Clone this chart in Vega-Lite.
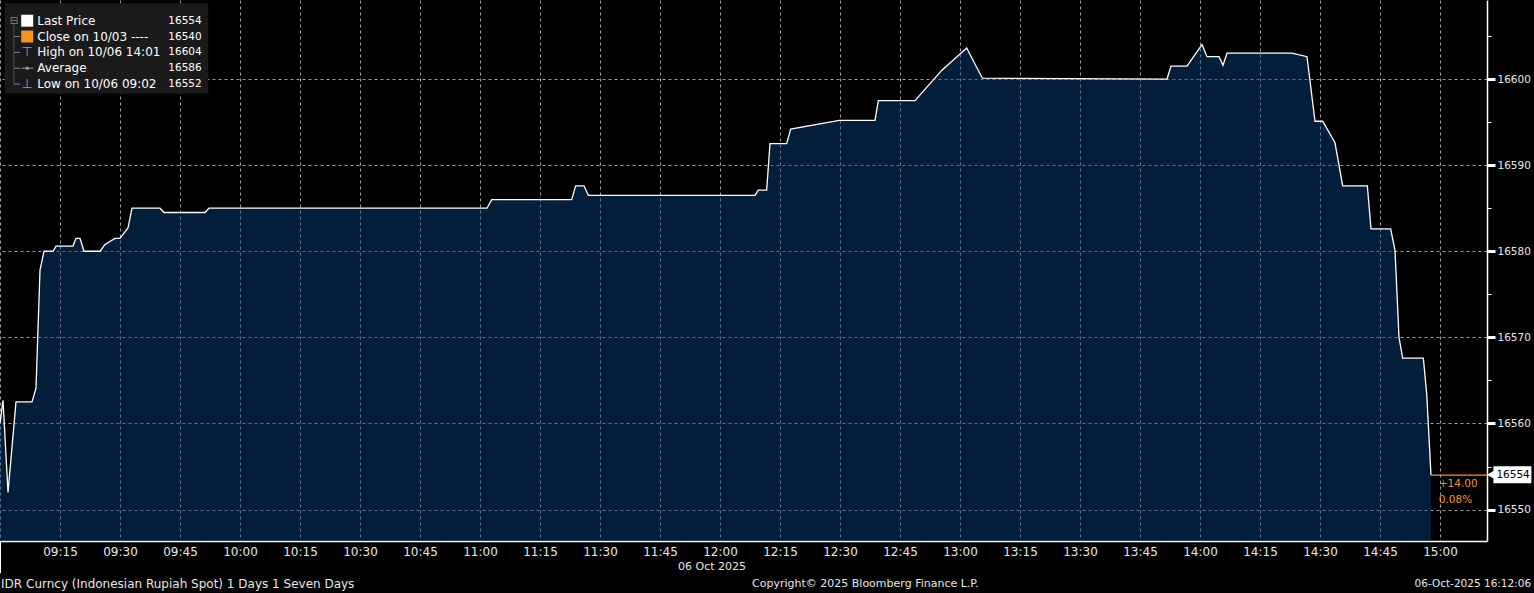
{
  "$schema": "https://vega.github.io/schema/vega-lite/v6.json",
  "width": 1487,
  "height": 541,
  "autosize": {"type": "none"},
  "padding": {"left": 0, "top": 0, "right": 47, "bottom": 52},
  "background": "#000000",
  "config": {"view": {"stroke": null}, "font": "DejaVu Sans"},
  "datasets": {
    "price": [
      {"t": "2025-10-06T09:00:00Z", "v": 16560},
      {"t": "2025-10-06T09:00:45Z", "v": 16562.7},
      {"t": "2025-10-06T09:02:00Z", "v": 16552},
      {"t": "2025-10-06T09:04:00Z", "v": 16562.5},
      {"t": "2025-10-06T09:08:00Z", "v": 16562.5},
      {"t": "2025-10-06T09:09:00Z", "v": 16564.1},
      {"t": "2025-10-06T09:10:00Z", "v": 16577.8},
      {"t": "2025-10-06T09:11:00Z", "v": 16580},
      {"t": "2025-10-06T09:13:15Z", "v": 16580},
      {"t": "2025-10-06T09:14:00Z", "v": 16580.6},
      {"t": "2025-10-06T09:18:15Z", "v": 16580.6},
      {"t": "2025-10-06T09:19:00Z", "v": 16581.5},
      {"t": "2025-10-06T09:20:00Z", "v": 16581.5},
      {"t": "2025-10-06T09:21:00Z", "v": 16580},
      {"t": "2025-10-06T09:25:00Z", "v": 16580},
      {"t": "2025-10-06T09:26:15Z", "v": 16580.8},
      {"t": "2025-10-06T09:28:45Z", "v": 16581.5},
      {"t": "2025-10-06T09:30:00Z", "v": 16581.5},
      {"t": "2025-10-06T09:32:00Z", "v": 16582.7},
      {"t": "2025-10-06T09:33:00Z", "v": 16585},
      {"t": "2025-10-06T09:40:00Z", "v": 16585},
      {"t": "2025-10-06T09:41:00Z", "v": 16584.5},
      {"t": "2025-10-06T09:51:15Z", "v": 16584.5},
      {"t": "2025-10-06T09:52:15Z", "v": 16585},
      {"t": "2025-10-06T11:01:45Z", "v": 16585},
      {"t": "2025-10-06T11:02:55Z", "v": 16586},
      {"t": "2025-10-06T11:22:55Z", "v": 16586},
      {"t": "2025-10-06T11:23:55Z", "v": 16587.6},
      {"t": "2025-10-06T11:26:00Z", "v": 16587.6},
      {"t": "2025-10-06T11:27:05Z", "v": 16586.5},
      {"t": "2025-10-06T12:08:45Z", "v": 16586.5},
      {"t": "2025-10-06T12:09:35Z", "v": 16587.1},
      {"t": "2025-10-06T12:11:40Z", "v": 16587.1},
      {"t": "2025-10-06T12:12:30Z", "v": 16592.5},
      {"t": "2025-10-06T12:16:40Z", "v": 16592.5},
      {"t": "2025-10-06T12:17:40Z", "v": 16594.2},
      {"t": "2025-10-06T12:29:50Z", "v": 16595.2},
      {"t": "2025-10-06T12:38:45Z", "v": 16595.2},
      {"t": "2025-10-06T12:39:35Z", "v": 16597.5},
      {"t": "2025-10-06T12:48:45Z", "v": 16597.5},
      {"t": "2025-10-06T12:55:25Z", "v": 16601},
      {"t": "2025-10-06T13:01:40Z", "v": 16603.6},
      {"t": "2025-10-06T13:05:35Z", "v": 16600.1},
      {"t": "2025-10-06T13:51:45Z", "v": 16600},
      {"t": "2025-10-06T13:52:45Z", "v": 16601.5},
      {"t": "2025-10-06T13:56:45Z", "v": 16601.5},
      {"t": "2025-10-06T14:00:30Z", "v": 16604},
      {"t": "2025-10-06T14:01:45Z", "v": 16602.6},
      {"t": "2025-10-06T14:04:45Z", "v": 16602.6},
      {"t": "2025-10-06T14:05:45Z", "v": 16601.6},
      {"t": "2025-10-06T14:06:45Z", "v": 16603},
      {"t": "2025-10-06T14:23:00Z", "v": 16603},
      {"t": "2025-10-06T14:26:45Z", "v": 16602.6},
      {"t": "2025-10-06T14:28:45Z", "v": 16595.1},
      {"t": "2025-10-06T14:30:40Z", "v": 16595.1},
      {"t": "2025-10-06T14:33:45Z", "v": 16592.6},
      {"t": "2025-10-06T14:35:40Z", "v": 16587.6},
      {"t": "2025-10-06T14:41:50Z", "v": 16587.6},
      {"t": "2025-10-06T14:42:45Z", "v": 16582.6},
      {"t": "2025-10-06T14:47:40Z", "v": 16582.6},
      {"t": "2025-10-06T14:48:45Z", "v": 16580.1},
      {"t": "2025-10-06T14:49:45Z", "v": 16570},
      {"t": "2025-10-06T14:50:40Z", "v": 16567.6},
      {"t": "2025-10-06T14:55:50Z", "v": 16567.6},
      {"t": "2025-10-06T14:56:40Z", "v": 16563.5},
      {"t": "2025-10-06T14:57:45Z", "v": 16554}
    ],
    "legend": [
      {"r": 1, "label": "Last Price", "val": "16554"},
      {"r": 2, "label": "Close on 10/03 ----", "val": "16540"},
      {"r": 3, "label": "High on 10/06 14:01", "val": "16604"},
      {"r": 4, "label": "Average", "val": "16586"},
      {"r": 5, "label": "Low on 10/06 09:02", "val": "16552"}
    ]
  },
  "layer": [
    {
      "data": {"name": "price"},
      "layer": [
        {
          "mark": {"type": "area", "color": "#074484", "opacity": 0.44, "interpolate": "linear"},
          "encoding": {
            "x": {
              "field": "t", "type": "temporal",
              "scale": {"type": "utc", "domain": [
                {"year": 2025, "month": 10, "date": 6, "hours": 9, "minutes": 0, "utc": true},
                {"year": 2025, "month": 10, "date": 6, "hours": 15, "minutes": 11, "seconds": 45, "utc": true}
              ]},
              "axis": {
                "orient": "bottom", "title": null, "format": "%H:%M",
                "values": [
                  {"year": 2025, "month": 10, "date": 6, "hours": 9, "minutes": 0, "utc": true},
                  {"year": 2025, "month": 10, "date": 6, "hours": 9, "minutes": 15, "utc": true},
                  {"year": 2025, "month": 10, "date": 6, "hours": 9, "minutes": 30, "utc": true},
                  {"year": 2025, "month": 10, "date": 6, "hours": 9, "minutes": 45, "utc": true},
                  {"year": 2025, "month": 10, "date": 6, "hours": 10, "minutes": 0, "utc": true},
                  {"year": 2025, "month": 10, "date": 6, "hours": 10, "minutes": 15, "utc": true},
                  {"year": 2025, "month": 10, "date": 6, "hours": 10, "minutes": 30, "utc": true},
                  {"year": 2025, "month": 10, "date": 6, "hours": 10, "minutes": 45, "utc": true},
                  {"year": 2025, "month": 10, "date": 6, "hours": 11, "minutes": 0, "utc": true},
                  {"year": 2025, "month": 10, "date": 6, "hours": 11, "minutes": 15, "utc": true},
                  {"year": 2025, "month": 10, "date": 6, "hours": 11, "minutes": 30, "utc": true},
                  {"year": 2025, "month": 10, "date": 6, "hours": 11, "minutes": 45, "utc": true},
                  {"year": 2025, "month": 10, "date": 6, "hours": 12, "minutes": 0, "utc": true},
                  {"year": 2025, "month": 10, "date": 6, "hours": 12, "minutes": 15, "utc": true},
                  {"year": 2025, "month": 10, "date": 6, "hours": 12, "minutes": 30, "utc": true},
                  {"year": 2025, "month": 10, "date": 6, "hours": 12, "minutes": 45, "utc": true},
                  {"year": 2025, "month": 10, "date": 6, "hours": 13, "minutes": 0, "utc": true},
                  {"year": 2025, "month": 10, "date": 6, "hours": 13, "minutes": 15, "utc": true},
                  {"year": 2025, "month": 10, "date": 6, "hours": 13, "minutes": 30, "utc": true},
                  {"year": 2025, "month": 10, "date": 6, "hours": 13, "minutes": 45, "utc": true},
                  {"year": 2025, "month": 10, "date": 6, "hours": 14, "minutes": 0, "utc": true},
                  {"year": 2025, "month": 10, "date": 6, "hours": 14, "minutes": 15, "utc": true},
                  {"year": 2025, "month": 10, "date": 6, "hours": 14, "minutes": 30, "utc": true},
                  {"year": 2025, "month": 10, "date": 6, "hours": 14, "minutes": 45, "utc": true},
                  {"year": 2025, "month": 10, "date": 6, "hours": 15, "minutes": 0, "utc": true}
                ],
                "labelExpr": "datum.label == '09:00' ? '' : datum.label",
                "ticks": false, "labelFlush": false, "labelOverlap": false,
                "domainColor": "#ffffff", "domainWidth": 1.5,
                "grid": true, "gridColor": "#a0a0a0", "gridDash": [3, 3], "gridWidth": 1,
                "labelColor": "#e8e8e8", "labelFont": "DejaVu Sans", "labelFontSize": 12, "labelPadding": 5
              }
            },
            "y": {
              "field": "v", "type": "quantitative",
              "scale": {"domain": [16546.35, 16609.18], "zero": false, "nice": false},
              "axis": {
                "orient": "right", "title": null, "format": "d",
                "values": [16550, 16555, 16560, 16565, 16570, 16575, 16580, 16585, 16590, 16595, 16600, 16605],
                "labelExpr": "datum.value % 10 == 0 ? datum.label : ''",
                "domainColor": "#ffffff", "domainWidth": 1.5,
                "tickColor": "#ffffff",
                "tickSize": {"condition": {"test": "datum.value % 10 == 0", "value": 8}, "value": 4},
                "tickWidth": {"condition": {"test": "datum.value % 10 == 0", "value": 3}, "value": 1},
                "grid": true, "gridColor": "#a0a0a0", "gridDash": [3, 3], "gridWidth": 1,
                "gridOpacity": {"condition": {"test": "datum.value % 10 == 0", "value": 1}, "value": 0},
                "labelColor": "#e8e8e8", "labelFont": "DejaVu Sans", "labelFontSize": 10.5, "labelPadding": 2
              }
            },
            "y2": {"datum": 16546.35}
          }
        },
        {
          "mark": {"type": "line", "color": "#ffffff", "strokeWidth": 1.3, "interpolate": "linear"},
          "encoding": {
            "x": {"field": "t", "type": "temporal"},
            "y": {"field": "v", "type": "quantitative"}
          }
        },
        {
          "data": {"values": [{}]},
          "mark": {"type": "rule", "color": "#f7941d", "strokeWidth": 1.2},
          "encoding": {
            "x": {"datum": {"year": 2025, "month": 10, "date": 6, "hours": 14, "minutes": 57, "seconds": 45, "utc": true}, "type": "temporal"},
            "x2": {"datum": {"year": 2025, "month": 10, "date": 6, "hours": 15, "minutes": 11, "seconds": 45, "utc": true}},
            "y": {"datum": 16554, "type": "quantitative"}
          }
        },
        {
          "data": {"values": [{}]},
          "mark": {"type": "text", "align": "left", "baseline": "middle", "font": "DejaVu Sans", "fontSize": 10.5, "color": "#f7941d"},
          "encoding": {
            "x": {"datum": {"year": 2025, "month": 10, "date": 6, "hours": 14, "minutes": 59, "seconds": 42, "utc": true}, "type": "temporal"},
            "y": {"datum": 16553.0, "type": "quantitative"},
            "text": {"value": "+14.00"}
          }
        },
        {
          "data": {"values": [{}]},
          "mark": {"type": "text", "align": "left", "baseline": "middle", "font": "DejaVu Sans", "fontSize": 10.5, "color": "#f7941d"},
          "encoding": {
            "x": {"datum": {"year": 2025, "month": 10, "date": 6, "hours": 14, "minutes": 59, "seconds": 42, "utc": true}, "type": "temporal"},
            "y": {"datum": 16551.16, "type": "quantitative"},
            "text": {"value": "0.08%"}
          }
        },
        {
          "data": {"values": [{}]},
          "mark": {"type": "rect", "color": "#ffffff"},
          "encoding": {
            "x": {"datum": {"year": 2025, "month": 10, "date": 6, "hours": 15, "minutes": 13, "seconds": 21, "utc": true}, "type": "temporal"},
            "x2": {"datum": {"year": 2025, "month": 10, "date": 6, "hours": 15, "minutes": 22, "seconds": 51, "utc": true}},
            "y": {"datum": 16555.03, "type": "quantitative"},
            "y2": {"datum": 16553.05}
          }
        },
        {
          "data": {"values": [{}]},
          "mark": {"type": "point", "shape": "triangle-left", "filled": true, "size": 70, "color": "#ffffff", "opacity": 1},
          "encoding": {
            "x": {"datum": {"year": 2025, "month": 10, "date": 6, "hours": 15, "minutes": 12, "seconds": 40, "utc": true}, "type": "temporal"},
            "y": {"datum": 16554.04, "type": "quantitative"}
          }
        },
        {
          "data": {"values": [{}]},
          "mark": {"type": "text", "align": "left", "baseline": "middle", "font": "DejaVu Sans", "fontSize": 10.5, "color": "#000000"},
          "encoding": {
            "x": {"datum": {"year": 2025, "month": 10, "date": 6, "hours": 15, "minutes": 14, "seconds": 6, "utc": true}, "type": "temporal"},
            "y": {"datum": 16554.0, "type": "quantitative"},
            "text": {"value": "16554"}
          }
        },
        {
          "data": {"values": [{}]},
          "mark": {"type": "text", "align": "center", "baseline": "middle", "font": "DejaVu Sans", "fontSize": 11, "color": "#e8e8e8"},
          "encoding": {
            "x": {"datum": {"year": 2025, "month": 10, "date": 6, "hours": 11, "minutes": 58, "seconds": 0, "utc": true}, "type": "temporal"},
            "y": {"datum": 16543.33, "type": "quantitative"},
            "text": {"value": "06 Oct 2025"}
          }
        },
        {
          "data": {"values": [{}]},
          "mark": {"type": "text", "align": "left", "baseline": "middle", "font": "DejaVu Sans", "fontSize": 12, "color": "#e8e8e8"},
          "encoding": {
            "x": {"datum": {"year": 2025, "month": 10, "date": 6, "hours": 9, "minutes": 0, "seconds": 16, "utc": true}, "type": "temporal"},
            "y": {"datum": 16541.39, "type": "quantitative"},
            "text": {"value": "IDR Curncy (Indonesian Rupiah Spot) 1 Days 1 Seven Days"}
          }
        },
        {
          "data": {"values": [{}]},
          "mark": {"type": "text", "align": "center", "baseline": "middle", "font": "DejaVu Sans", "fontSize": 11, "color": "#e8e8e8"},
          "encoding": {
            "x": {"datum": {"year": 2025, "month": 10, "date": 6, "hours": 12, "minutes": 36, "seconds": 21, "utc": true}, "type": "temporal"},
            "y": {"datum": 16541.39, "type": "quantitative"},
            "text": {"value": "Copyright© 2025 Bloomberg Finance L.P."}
          }
        },
        {
          "data": {"values": [{}]},
          "mark": {"type": "text", "align": "right", "baseline": "middle", "font": "DejaVu Sans", "fontSize": 10.5, "color": "#e8e8e8"},
          "encoding": {
            "x": {"datum": {"year": 2025, "month": 10, "date": 6, "hours": 15, "minutes": 22, "seconds": 47, "utc": true}, "type": "temporal"},
            "y": {"datum": 16541.39, "type": "quantitative"},
            "text": {"value": "06-Oct-2025 16:12:06"}
          }
        },
        {
          "data": {"values": [{}]},
          "mark": {"type": "rule", "color": "#ffffff", "strokeWidth": 2},
          "encoding": {
            "x": {"datum": {"year": 2025, "month": 10, "date": 6, "hours": 9, "minutes": 0, "seconds": 0, "utc": true}, "type": "temporal"},
            "y": {"datum": 16546.35, "type": "quantitative"},
            "y2": {"datum": 16542.6}
          }
        }
      ]
    },
    {
      "data": {"name": "legend"},
      "layer": [
        {
          "data": {"values": [{}]},
          "mark": {"type": "rect", "color": "#1a1a1a"},
          "encoding": {
            "x": {"datum": 0, "type": "quantitative", "scale": {"domain": [0, 10], "range": [4.7, 208.3]}, "axis": null},
            "x2": {"datum": 10},
            "y": {"datum": -0.1, "type": "quantitative", "scale": {"domain": [0, 6], "range": [4.87, 99.85]}, "axis": null},
            "y2": {"datum": 5.6}
          }
        },
        {
          "data": {"values": [{}]},
          "mark": {"type": "rule", "color": "#8a8a8a", "strokeWidth": 1, "strokeDash": [1, 1]},
          "encoding": {
            "x": {"datum": 0.45, "type": "quantitative"},
            "y": {"datum": 1.25, "type": "quantitative"},
            "y2": {"datum": 5}
          }
        },
        {
          "transform": [{"filter": "datum.r > 1"}],
          "mark": {"type": "rule", "color": "#8a8a8a", "strokeWidth": 1},
          "encoding": {
            "x": {"datum": 0.45, "type": "quantitative"},
            "x2": {"datum": 0.75},
            "y": {"field": "r", "type": "quantitative"}
          }
        },
        {
          "data": {"values": [{}]},
          "mark": {"type": "text", "align": "center", "baseline": "middle", "font": "DejaVu Sans", "fontSize": 10, "color": "#8a8a8a"},
          "encoding": {
            "x": {"datum": 0.45, "type": "quantitative"},
            "y": {"datum": 1, "type": "quantitative"},
            "text": {"value": "⊟"}
          }
        },
        {
          "data": {"values": [{}]},
          "mark": {"type": "point", "shape": "square", "filled": true, "size": 144, "color": "#ffffff", "opacity": 1},
          "encoding": {
            "x": {"datum": 1.105, "type": "quantitative"},
            "y": {"datum": 1, "type": "quantitative"}
          }
        },
        {
          "data": {"values": [{}]},
          "mark": {"type": "point", "shape": "square", "filled": true, "size": 144, "color": "#f7941d", "opacity": 1},
          "encoding": {
            "x": {"datum": 1.105, "type": "quantitative"},
            "y": {"datum": 2, "type": "quantitative"}
          }
        },
        {
          "data": {"values": [{}]},
          "mark": {"type": "text", "align": "center", "baseline": "middle", "font": "DejaVu Sans", "fontSize": 13, "color": "#9a9a9a"},
          "encoding": {
            "x": {"datum": 1.105, "type": "quantitative"},
            "y": {"datum": 3, "type": "quantitative"},
            "text": {"value": "⊤"}
          }
        },
        {
          "data": {"values": [{}]},
          "mark": {"type": "rule", "color": "#9a9a9a", "strokeWidth": 1},
          "encoding": {
            "x": {"datum": 0.82, "type": "quantitative"},
            "x2": {"datum": 1.4},
            "y": {"datum": 4, "type": "quantitative"}
          }
        },
        {
          "data": {"values": [{}]},
          "mark": {"type": "point", "shape": "circle", "filled": true, "size": 12, "color": "#9a9a9a", "opacity": 1},
          "encoding": {
            "x": {"datum": 1.105, "type": "quantitative"},
            "y": {"datum": 4, "type": "quantitative"}
          }
        },
        {
          "data": {"values": [{}]},
          "mark": {"type": "text", "align": "center", "baseline": "middle", "font": "DejaVu Sans", "fontSize": 13, "color": "#9a9a9a"},
          "encoding": {
            "x": {"datum": 1.105, "type": "quantitative"},
            "y": {"datum": 5, "type": "quantitative"},
            "text": {"value": "⊥"}
          }
        },
        {
          "mark": {"type": "text", "align": "left", "baseline": "middle", "font": "DejaVu Sans", "fontSize": 12, "color": "#ffffff"},
          "encoding": {
            "x": {"datum": 1.601, "type": "quantitative"},
            "y": {"field": "r", "type": "quantitative"},
            "text": {"field": "label"}
          }
        },
        {
          "mark": {"type": "text", "align": "right", "baseline": "middle", "font": "DejaVu Sans", "fontSize": 10.5, "color": "#ffffff"},
          "encoding": {
            "x": {"datum": 9.675, "type": "quantitative"},
            "y": {"field": "r", "type": "quantitative"},
            "text": {"field": "val"}
          }
        }
      ]
    }
  ],
  "resolve": {"scale": {"x": "independent", "y": "independent"}}
}
